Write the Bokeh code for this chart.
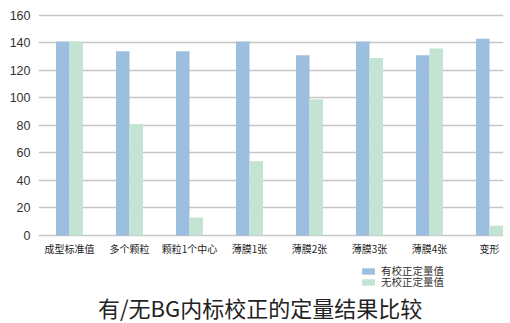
from bokeh.plotting import figure
from bokeh.models import Range1d, Label, Legend, LegendItem, ColumnDataSource, FixedTicker
from bokeh.transform import dodge
from bokeh.core.properties import value
from bokeh.embed import file_html
from bokeh.resources import INLINE

categories = ["成型标准值", "多个颗粒", "颗粒1个中心", "薄膜1张", "薄膜2张", "薄膜3张", "薄膜4张", "变形"]
corrected = [141, 134, 134, 141, 131, 141, 131, 143]
uncorrected = [141, 81, 13, 54, 99, 129, 136, 7]
series_names = ["有校正定量值", "无校正定量值"]
y_ticks = [0, 20, 40, 60, 80, 100, 120, 140, 160]
title_text = "有/无BG内标校正的定量结果比较"

xs = list(range(len(categories)))
src = ColumnDataSource(dict(x=xs, a=corrected, b=uncorrected, cat=categories,
                            ly=[-9.8] * len(categories)))

p = figure(width=510, height=323, output_backend="svg", toolbar_location=None,
           x_range=Range1d(-0.517, 7.233), y_range=Range1d(-64, 163.6),
           min_border_left=38, min_border_right=7, min_border_top=10, min_border_bottom=0)
p.outline_line_color = None
p.background_fill_color = "white"
p.border_fill_color = "white"
p.xaxis.visible = False

w = 0.225
r1 = p.vbar(x=dodge("x", -w / 2), top="a", width=w, source=src, fill_color="#9dbfdf", line_color=None)
r2 = p.vbar(x=dodge("x", w / 2), top="b", width=w, source=src, fill_color="#c3e3d3", line_color=None)

p.text(x="x", y="ly", text="cat", source=src, text_align="center", text_baseline="middle",
       text_font=value("Noto Sans CJK SC"), text_font_size="10px", text_color="#222222")

p.xgrid.visible = False
p.ygrid.ticker = FixedTicker(ticks=y_ticks)
p.ygrid.grid_line_color = "#c6c6c6"
p.ygrid.grid_line_width = 1.5

p.yaxis.ticker = FixedTicker(ticks=y_ticks)
p.yaxis.axis_line_color = None
p.yaxis.major_tick_line_color = None
p.yaxis.minor_tick_line_color = None
p.yaxis.major_label_standoff = 2
p.yaxis.major_label_text_font = "Liberation Sans"
p.yaxis.major_label_text_font_size = "12.5px"
p.yaxis.major_label_text_color = "#333333"

for name, rend, ypos in [(series_names[0], r1, 45), (series_names[1], r2, 34)]:
    lg = Legend(items=[LegendItem(label=name, renderers=[rend])],
                location=(322, ypos),
                glyph_width=16, glyph_height=8, label_height=8,
                padding=0, margin=0, label_standoff=5,
                label_text_font="Noto Sans CJK SC", label_text_font_size="10.5px",
                label_text_color="#333333", border_line_color=None,
                background_fill_alpha=0)
    p.add_layout(lg, "center")

title = Label(x=3.175, y=-52, text=title_text, text_align="center", text_baseline="middle",
              text_font="Noto Sans CJK SC", text_font_size="22px", text_color="#222222")
p.add_layout(title)

open("out.html", "w").write(file_html(p, INLINE))
